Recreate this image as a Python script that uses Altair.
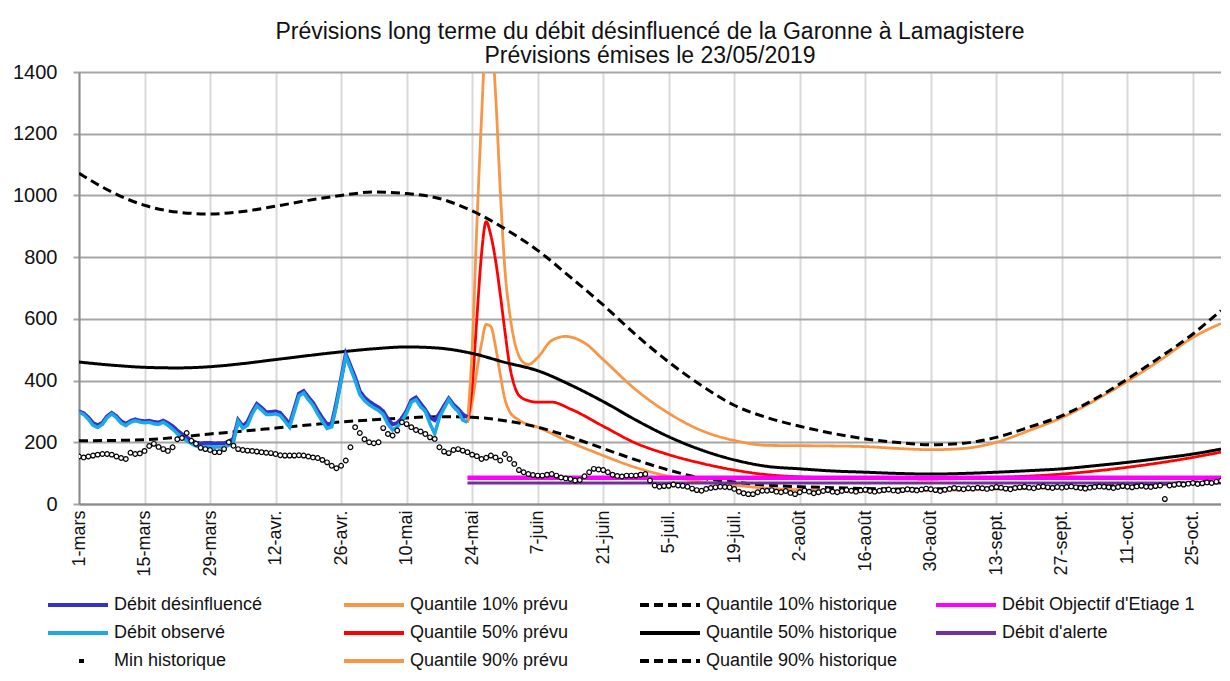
import altair as alt
import pandas as pd

# ---------------- data ----------------
START = "2019-03-01"
END = "2019-10-31"

TITLE = ["Prévisions long terme du débit désinfluencé de la Garonne à Lamagistere",
         "Prévisions émises le 23/05/2019"]

MONTHS_FR = ["janv.", "févr.", "mars", "avr.", "mai", "juin", "juil.", "août",
             "sept.", "oct.", "nov.", "déc."]
TICK_DATES = ["2019-03-01", "2019-03-15", "2019-03-29", "2019-04-12", "2019-04-26",
              "2019-05-10", "2019-05-24", "2019-06-07", "2019-06-21", "2019-07-05",
              "2019-07-19", "2019-08-02", "2019-08-16", "2019-08-30", "2019-09-13",
              "2019-09-27", "2019-10-11", "2019-10-25"]
Y_TICKS = [0, 200, 400, 600, 800, 1000, 1200, 1400]

# legend order (filled column by column, 3 rows)
SERIES = ["Débit désinfluencé", "Débit observé", "Min historique",
          "Quantile 10% prévu", "Quantile 50% prévu", "Quantile 90% prévu",
          "Quantile 10% historique", "Quantile 50% historique", "Quantile 90% historique",
          "Débit Objectif d'Etiage 1", "Débit d'alerte"]
COLORS = ["#3232c8", "#1ca9e6", "#000000",
          "#f79646", "#ff0000", "#f79646",
          "#000000", "#000000", "#000000",
          "#ff00ff", "#7030a0"]
DASHES = [[1, 0], [1, 0], [0, 31, 5, 100],
          [1, 0], [1, 0], [1, 0],
          [9, 5], [1, 0], [9, 5],
          [1, 0], [1, 0]]

# daily series from 1 March 2019
DESINFLUENCE = [300, 294, 280, 262, 255, 263, 284, 295, 284, 268,
                260, 269, 274, 270, 268, 270, 266, 264, 270, 262,
                252, 238, 226, 216, 206, 199, 196, 198, 198, 196,
                197, 197, 202, 212, 272, 252, 266, 298, 324, 312,
                297, 298, 300, 295, 277, 258, 308, 358, 366, 346,
                328, 302, 278, 258, 260, 328, 405, 485, 448, 410,
                365, 345, 332, 322, 313, 300, 275, 258, 262, 278,
                302, 336, 345, 325, 305, 280, 272, 292, 318, 342,
                322, 308, 290, 282]
OBSERVE = [297, 290, 275, 255, 248, 258, 280, 292, 280, 262,
           254, 265, 270, 266, 263, 265, 260, 258, 265, 255,
           243, 228, 216, 205, 196, 188, 184, 186, 186, 184,
           185, 185, 190, 200, 268, 245, 255, 292, 318, 305,
           290, 290, 292, 287, 268, 249, 300, 350, 360, 338,
           320, 292, 268, 245, 250, 320, 400, 478, 440, 400,
           355, 335, 322, 312, 303, 290, 259, 240, 250, 268,
           295, 330, 338, 315, 300, 260, 228, 280, 310, 338,
           315, 300, 272, 265]
MIN_HIST = [154, 151, 154, 157, 160, 162, 162, 160, 154, 149,
            146, 166, 162, 164, 172, 188, 195, 185, 178, 172,
            184, 210, 214, 230, 205, 195, 182, 178, 175, 168,
            168, 178, 200, 189, 178, 175, 173, 172, 170, 168,
            166, 165, 162, 158, 157, 157, 157, 158, 157, 154,
            151, 149, 143, 135, 124, 116, 124, 141, 184, 249,
            230, 210, 200, 197, 200, 246, 227, 222, 238, 265,
            259, 249, 240, 235, 227, 216, 211, 184, 170, 165,
            175, 178, 173, 168, 160, 155, 146, 150, 157, 151,
            141, 162, 146, 130, 110, 103, 97, 94, 92, 92,
            95, 97, 92, 86, 83, 81, 76, 78, 90, 103,
            114, 112, 110, 103, 95, 91, 89, 92, 92, 92,
            95, 97, 76, 60, 56, 58, 59, 63, 60, 59,
            56, 50, 45, 43, 49, 52, 54, 56, 55, 54,
            49, 40, 35, 32, 32, 38, 43, 43,
            45, 40, 38, 42, 36, 32, 38, 44, 40, 35, 38, 42, 45,
            40, 38, 42, 45, 43, 40, 44, 46, 42, 40, 43, 45, 47, 44, 42,
            45, 48, 46, 44, 47, 50, 48, 45, 42, 46, 49, 52, 50, 48, 51,
            50, 53, 51, 49, 52, 55, 53, 50, 48, 52, 54, 56, 53, 51, 55, 57, 54, 52, 55, 53,
            55, 57, 54, 52, 50, 53, 55, 57, 56, 54, 52, 55, 58, 56, 54, 57, 59, 56, 55, 58, 60,
            16,
            60, 62, 65, 63, 66, 68, 65, 67, 70, 68, 72, 75]

# forecasts issued 23/05/2019
Q90_PREVU_DATES = ["2019-05-23", "2019-05-24", "2019-05-25", "2019-05-26", "2019-05-27",
                   "2019-05-28", "2019-05-29", "2019-05-30", "2019-05-31", "2019-06-01",
                   "2019-06-02", "2019-06-03", "2019-06-04", "2019-06-05", "2019-06-07",
                   "2019-06-10", "2019-06-13", "2019-06-17", "2019-06-21", "2019-06-28",
                   "2019-07-05", "2019-07-12", "2019-07-19", "2019-07-26", "2019-08-02",
                   "2019-08-09", "2019-08-16", "2019-08-23", "2019-08-30", "2019-09-06",
                   "2019-09-13", "2019-09-20", "2019-09-27", "2019-10-04", "2019-10-11",
                   "2019-10-18", "2019-10-25", "2019-10-31"]
Q90_PREVU = [265, 500, 900, 1250, 1520, 1530, 1330, 1020, 760, 620,
             530, 480, 458, 452, 475, 530, 543, 522, 468, 370,
             294, 238, 206, 190, 189, 188, 186, 180, 176, 180,
             200, 238, 280, 335, 398, 466, 540, 585]
Q50_PREVU_DATES = ["2019-05-23", "2019-05-24", "2019-05-25", "2019-05-26", "2019-05-27",
                   "2019-05-28", "2019-05-29", "2019-05-30", "2019-05-31", "2019-06-01",
                   "2019-06-02", "2019-06-03", "2019-06-05", "2019-06-07", "2019-06-10",
                   "2019-06-14", "2019-06-21", "2019-06-28", "2019-07-05", "2019-07-12",
                   "2019-07-19", "2019-07-26", "2019-08-02", "2019-08-16", "2019-08-30",
                   "2019-09-13", "2019-09-27", "2019-10-11", "2019-10-25", "2019-10-31"]
Q50_PREVU = [265, 380, 600, 810, 915, 870, 790, 680, 560, 450,
             385, 352, 335, 330, 330, 308, 252, 197, 160, 132,
             110, 95, 88, 83, 81, 86, 97, 119, 151, 168]
Q10_PREVU_DATES = ["2019-05-23", "2019-05-24", "2019-05-25", "2019-05-26", "2019-05-27",
                   "2019-05-28", "2019-05-29", "2019-05-30", "2019-05-31", "2019-06-01",
                   "2019-06-03", "2019-06-07", "2019-06-14", "2019-06-21", "2019-06-28",
                   "2019-07-05", "2019-07-12", "2019-07-19", "2019-07-26", "2019-08-02",
                   "2019-08-16", "2019-08-30", "2019-09-13", "2019-09-27", "2019-10-11",
                   "2019-10-25", "2019-10-31"]
Q10_PREVU = [265, 330, 430, 520, 582, 575, 510, 420, 340, 300,
             272, 249, 200, 157, 118, 90, 72, 61, 51, 46,
             42, 44, 48, 53, 59, 67, 73]

# historical quantiles (weekly readings)
HIST_DATES = ["2019-03-01", "2019-03-08", "2019-03-15", "2019-03-22", "2019-03-29",
              "2019-04-05", "2019-04-12", "2019-04-19", "2019-04-26", "2019-05-03",
              "2019-05-10", "2019-05-17", "2019-05-24", "2019-05-31", "2019-06-07",
              "2019-06-14", "2019-06-21", "2019-06-28", "2019-07-05", "2019-07-12",
              "2019-07-19", "2019-07-26", "2019-08-02", "2019-08-09", "2019-08-16",
              "2019-08-23", "2019-08-30", "2019-09-06", "2019-09-13", "2019-09-20",
              "2019-09-27", "2019-10-04", "2019-10-11", "2019-10-18", "2019-10-25",
              "2019-10-31"]
Q90_HIST = [1072, 1011, 968, 946, 940, 948, 965, 984, 1000, 1011,
            1006, 990, 950, 892, 822, 735, 645, 548, 460, 384,
            320, 280, 252, 229, 211, 199, 192, 197, 216, 249,
            286, 340, 405, 476, 551, 627]
Q50_HIST = [460, 450, 443, 441, 445, 455, 468, 481, 493, 503,
            509, 505, 488, 459, 432, 386, 332, 272, 218, 175,
            143, 122, 114, 107, 103, 99, 97, 99, 103, 108,
            114, 124, 135, 148, 162, 178]
Q10_HIST = [205, 206, 208, 216, 227, 236, 246, 256, 266, 273,
            279, 283, 281, 270, 249, 217, 180, 143, 110, 84,
            71, 61, 56, 53, 50, 49, 49, 50, 51, 53,
            55, 58, 61, 65, 70, 76]

THRESH_DATES = ["2019-05-23", "2019-10-31"]
DOE = [85, 85]
ALERTE = [68, 68]

# ---------------- table ----------------
rows = []


def add_daily(name, values):
    dates = pd.date_range(START, periods=len(values), freq="D").strftime("%Y-%m-%d")
    for d, v in zip(dates, values):
        rows.append({"date": d, "value": v, "series": name})


def add_dated(name, dates, values):
    for d, v in zip(dates, values):
        rows.append({"date": d, "value": v, "series": name})


add_daily("Débit désinfluencé", DESINFLUENCE)
add_daily("Débit observé", OBSERVE)
add_daily("Min historique", MIN_HIST)
add_dated("Quantile 10% prévu", Q10_PREVU_DATES, Q10_PREVU)
add_dated("Quantile 50% prévu", Q50_PREVU_DATES, Q50_PREVU)
add_dated("Quantile 90% prévu", Q90_PREVU_DATES, Q90_PREVU)
add_dated("Quantile 10% historique", HIST_DATES, Q10_HIST)
add_dated("Quantile 50% historique", HIST_DATES, Q50_HIST)
add_dated("Quantile 90% historique", HIST_DATES, Q90_HIST)
add_dated("Débit Objectif d'Etiage 1", THRESH_DATES, DOE)
add_dated("Débit d'alerte", THRESH_DATES, ALERTE)
df = pd.DataFrame(rows)


def ms(d):
    return int(pd.Timestamp(d).value // 10**6)


FONT = "Liberation Sans"
month_arr = "[" + ",".join("'" + m + "'" for m in MONTHS_FR) + "]"

x_enc = alt.X(
    "date:T",
    scale=alt.Scale(type="utc", domain=[ms(START), ms(END)]),
    axis=alt.Axis(
        values=[ms(d) for d in TICK_DATES],
        labelExpr="utcdate(datum.value) + '-' + " + month_arr + "[utcmonth(datum.value)]",
        labelAngle=270, labelFont=FONT, labelFontSize=18, labelColor="#111",
        labelPadding=6, labelOverlap=False, labelFlush=False,
        ticks=False, grid=True, gridColor="#d9d9d9", gridWidth=2,
        domain=True, domainColor="#8c8c8c", domainWidth=2, title=None),
)
y_enc = alt.Y(
    "value:Q",
    scale=alt.Scale(domain=[0, 1400], nice=False, zero=True),
    axis=alt.Axis(
        values=Y_TICKS, format="d", labelFont=FONT, labelFontSize=20, labelColor="#111",
        labelPadding=16, ticks=True, tickSize=6, tickColor="#a6a6a6", tickWidth=2,
        grid=True, gridColor="#a6a6a6", gridWidth=2,
        domain=True, domainColor="#8c8c8c", domainWidth=2, title=None),
)
legend = alt.Legend(
    title=None, orient="none", legendX=-33, legendY=523, columns=4,
    gridAlign="all", columnPadding=35, rowPadding=8, padding=0,
    symbolType="stroke", symbolSize=3600, symbolStrokeWidth=4, clipHeight=20,
    labelFont=FONT, labelFontSize=18, labelColor="#111", labelLimit=320, labelOffset=4,
)
color_enc = alt.Color("series:N", scale=alt.Scale(domain=SERIES, range=COLORS), legend=legend)
dash_enc = alt.StrokeDash("series:N", scale=alt.Scale(domain=SERIES, range=DASHES), legend=legend)

base = alt.Chart(df)


def lines(names, width, interp):
    return base.transform_filter(
        alt.FieldOneOfPredicate(field="series", oneOf=names)
    ).mark_line(strokeWidth=width, interpolate=interp, clip=True).encode(
        x=x_enc, y=y_enc, color=color_enc, strokeDash=dash_enc
    )


forecasts = lines(["Quantile 10% prévu", "Quantile 90% prévu", "Quantile 50% prévu"], 2.8, "monotone")
historic = lines(["Quantile 10% historique", "Quantile 50% historique", "Quantile 90% historique"], 3, "monotone")
doe = lines(["Débit Objectif d'Etiage 1"], 4.5, "linear")
alerte = lines(["Débit d'alerte"], 3, "linear")
desinf = lines(["Débit désinfluencé"], 4, "linear")
obs = lines(["Débit observé"], 3.5, "linear")
points = base.transform_filter(
    alt.datum.series == "Min historique"
).mark_point(shape="circle", filled=True, fill="white", stroke="#000",
             strokeWidth=1.2, size=22, opacity=1, clip=True).encode(x=x_enc, y=y_enc)

chart = alt.layer(forecasts, historic, doe, alerte, desinf, obs, points).properties(
    width=1142, height=432,
    padding={"left": 4, "top": 13, "right": 0, "bottom": 0},
    title=alt.TitleParams(text=TITLE, font=FONT, fontSize=23, fontWeight="normal",
                          color="#111", anchor="middle", frame="group",
                          lineHeight=24, offset=-6),
).configure_view(stroke=None).configure(background="white")

chart.save("out.html", embed_options={"renderer": "svg", "actions": False})
